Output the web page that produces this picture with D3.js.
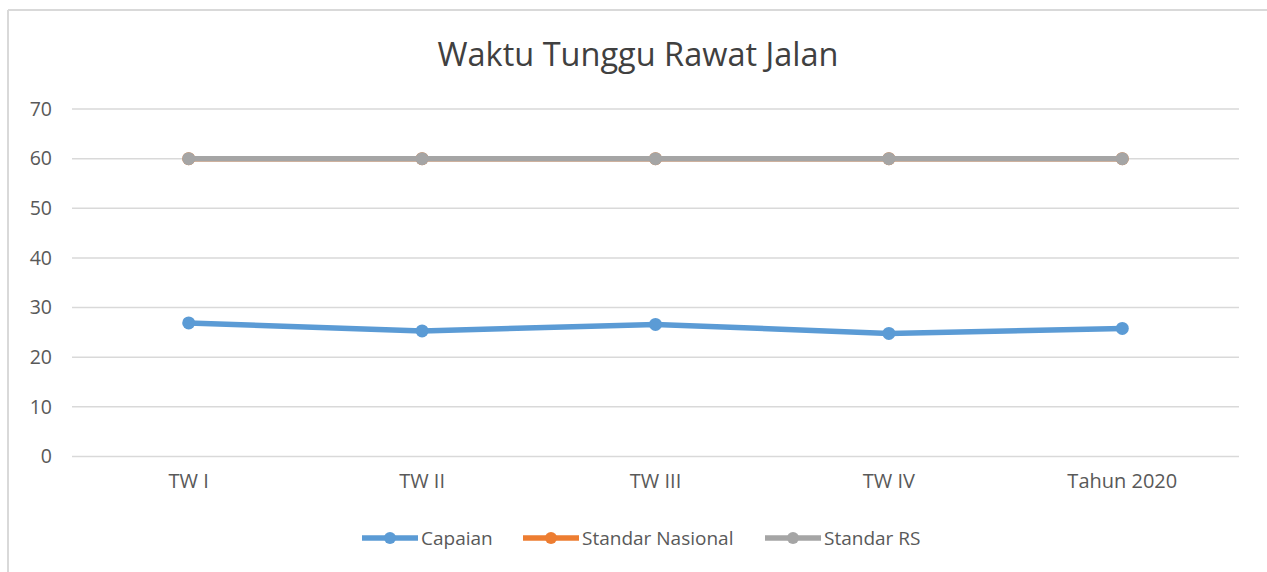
<!DOCTYPE html>
<html><head><meta charset="utf-8">
<script src="https://cdn.jsdelivr.net/npm/d3@7"></script>
<style>html,body{margin:0;padding:0;background:#fff;}svg{display:block;}</style>
</head><body>
<svg id="c" width="1267" height="572"></svg>
<script>
const categories = ["TW I", "TW II", "TW III", "TW IV", "Tahun 2020"];
const capaian = [26.9, 25.3, 26.6, 24.8, 25.8];
const standarNasional = [60, 60, 60, 60, 60];
const standarRS = [60, 60, 60, 60, 60];
const yTicks = [0, 10, 20, 30, 40, 50, 60, 70];
const seriesNames = ["Capaian", "Standar Nasional", "Standar RS"];
const seriesColors = ["#5b9bd5", "#ed7d31", "#a5a5a5"];

const svg = d3.select("#c");
const font = "'Open Sans', 'Noto Sans', sans-serif";

// frame
svg.append("line").attr("x1", 8).attr("x2", 1267).attr("y1", 10).attr("y2", 10)
  .attr("stroke", "#d9d9d9").attr("stroke-width", 2);
svg.append("line").attr("x1", 8).attr("x2", 8).attr("y1", 10).attr("y2", 572)
  .attr("stroke", "#d9d9d9").attr("stroke-width", 2);

const x = d3.scaleBand().domain(categories).range([72, 1239]);
const y = d3.scaleLinear().domain([0, 70]).range([456.5, 109]);

// gridlines
svg.append("g").selectAll("line").data(yTicks).join("line")
  .attr("x1", 72).attr("x2", 1239)
  .attr("y1", d => y(d)).attr("y2", d => y(d))
  .attr("stroke", "#d9d9d9").attr("stroke-width", 1.5);

// y axis labels
const yAxis = d3.axisLeft(y).tickValues(yTicks).tickSize(0).tickPadding(0);
const gy = svg.append("g").attr("transform", "translate(52,0)").call(yAxis);
gy.select(".domain").remove();
gy.selectAll("text").attr("font-family", font).attr("font-size", 19.5).attr("fill", "#595959");

// x axis labels
const xAxis = d3.axisBottom(x).tickSize(0).tickPadding(0);
const gx = svg.append("g").attr("transform", "translate(0,474)").call(xAxis);
gx.select(".domain").remove();
gx.selectAll("text").attr("font-family", font).attr("font-size", 20).attr("fill", "#595959").attr("dy", "0.71em");

// title
svg.append("text").attr("x", 638).attr("y", 66).attr("text-anchor", "middle")
  .attr("font-family", font).attr("font-size", 32.5).attr("fill", "#404040")
  .text("Waktu Tunggu Rawat Jalan");

const line = d3.line().x((d, i) => x(categories[i]) + x.bandwidth() / 2).y(d => y(d));
const allSeries = [capaian, standarNasional, standarRS];
const order = [1, 2, 0];
order.forEach(si => {
  const data = allSeries[si];
  const g = svg.append("g");
  g.append("path").datum(data).attr("d", line).attr("fill", "none")
    .attr("stroke", seriesColors[si]).attr("stroke-width", 5.5).attr("stroke-linejoin", "round");
  g.selectAll("circle").data(data).join("circle")
    .attr("cx", (d, i) => x(categories[i]) + x.bandwidth() / 2)
    .attr("cy", d => y(d)).attr("r", 6.5)
    .attr("fill", seriesColors[si]);
});

// legend
const legendX = [362, 523, 765];
const ly = 538;
seriesNames.forEach((n, i) => {
  const g = svg.append("g");
  g.append("line").attr("x1", legendX[i]).attr("x2", legendX[i] + 56)
    .attr("y1", ly).attr("y2", ly).attr("stroke", seriesColors[i]).attr("stroke-width", 5.5);
  g.append("circle").attr("cx", legendX[i] + 28).attr("cy", ly).attr("r", 6).attr("fill", seriesColors[i]);
  g.append("text").attr("x", legendX[i] + 59).attr("y", ly).attr("dy", "0.35em")
    .attr("font-family", font).attr("font-size", 19).attr("fill", "#595959").text(n);
});
</script>
</body></html>
